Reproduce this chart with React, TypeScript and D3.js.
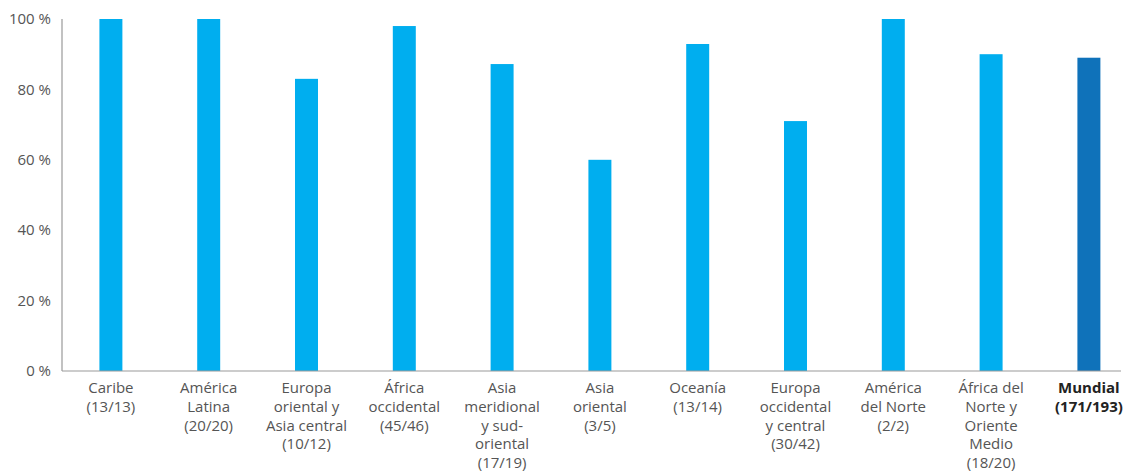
import React from "react";
import * as d3 from "d3";

const categories: string[][] = [
  ["Caribe", "(13/13)"],
  ["América", "Latina", "(20/20)"],
  ["Europa", "oriental y", "Asia central", "(10/12)"],
  ["África", "occidental", "(45/46)"],
  ["Asia", "meridional", "y sud-", "oriental", "(17/19)"],
  ["Asia", "oriental", "(3/5)"],
  ["Oceanía", "(13/14)"],
  ["Europa", "occidental", "y central", "(30/42)"],
  ["América", "del Norte", "(2/2)"],
  ["África del", "Norte y", "Oriente", "Medio", "(18/20)"],
  ["Mundial", "(171/193)"],
];
const values: number[] = [100, 100, 83, 98, 87.2, 60, 92.9, 71, 100, 90, 89];
const highlight: boolean[] = [false, false, false, false, false, false, false, false, false, false, true];
const yTicks: number[] = [0, 20, 40, 60, 80, 100];

const W = 1127;
const H = 472;
const left = 62;
const step = 97.8;
const top = 19;
const bottom = 371;

export default function App() {
  const x = d3
    .scaleBand<number>()
    .domain(categories.map((_, i) => i))
    .range([left, left + step * categories.length])
    .paddingInner(0.765)
    .paddingOuter(0.3825);
  const y = d3.scaleLinear().domain([0, 100]).range([bottom, top]);
  const font = "'Open Sans', sans-serif";
  return (
    <svg width={W} height={H} style={{ position: "absolute", left: 0, top: 0 }}>
      <rect width={W} height={H} fill="#fff" />
      {values.map((v, i) => (
        <rect
          key={i}
          x={x(i)!}
          y={y(v)}
          width={x.bandwidth()}
          height={y(0) - y(v)}
          fill={highlight[i] ? "#0F72BA" : "#00AEEF"}
        />
      ))}
      <line x1={left} x2={left} y1={top} y2={bottom} stroke="#999" strokeWidth={1.2} />
      <line x1={left} x2={1121} y1={bottom} y2={bottom} stroke="#999" strokeWidth={1.2} />
      {yTicks.map((t) => (
        <text
          key={t}
          x={51}
          y={y(t)}
          dy="0.35em"
          textAnchor="end"
          fontFamily={font}
          fontSize={15}
          fill="#555"
        >
          {t} %
        </text>
      ))}
      {categories.map((lines, i) => (
        <text
          key={i}
          x={x(i)! + x.bandwidth() / 2}
          textAnchor="middle"
          fontFamily={font}
          fontSize={15}
          fill={highlight[i] ? "#222" : "#555"}
          fontWeight={highlight[i] ? 700 : 400}
        >
          {lines.map((l, j) => (
            <tspan key={j} x={x(i)! + x.bandwidth() / 2} y={393 + j * 18.8}>
              {l}
            </tspan>
          ))}
        </text>
      ))}
    </svg>
  );
}
